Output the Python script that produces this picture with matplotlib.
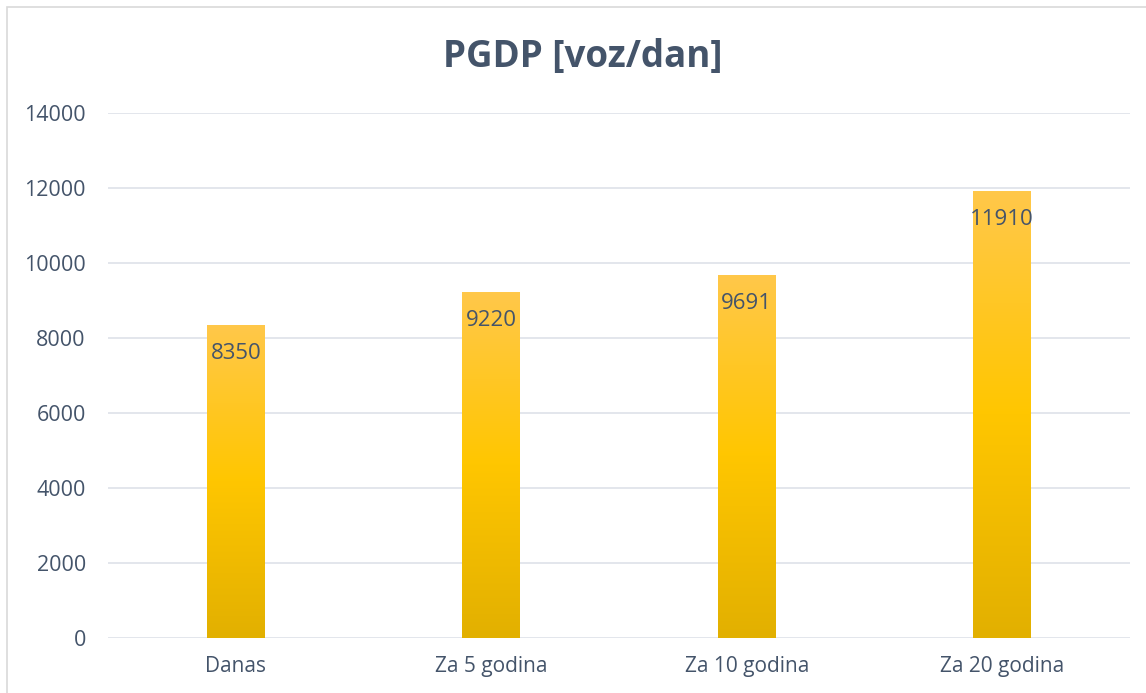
import numpy as np
import matplotlib.pyplot as plt
from matplotlib.colors import LinearSegmentedColormap
from matplotlib.patches import Rectangle

kategorije = ['Danas', 'Za 5 godina', 'Za 10 godina', 'Za 20 godina']
pgdp = [8350, 9220, 9691, 11910]

tekst = '#44546A'
plt.rcParams['font.family'] = ['Open Sans', 'DejaVu Sans']

fig = plt.figure(figsize=(11.46, 6.93), dpi=100)
ax = fig.add_axes([108 / 1146, 1 - 638 / 693, 1022 / 1146, 525 / 693])

# okvir oko grafikona
fig.patches.append(Rectangle((7 / 1146, -0.01), 1.02, 1 - 7 / 693 + 0.01, transform=fig.transFigure,
                             fill=False, edgecolor='#D9D9D9', linewidth=1.2))

x = np.arange(len(kategorije))
bars = ax.bar(x, pgdp, width=0.227, color='none', zorder=3)

# gradijent u stupcima
grad = LinearSegmentedColormap.from_list('g', ['#E2B000', '#FFC600', '#FFC84A'])
slika = np.linspace(0, 1, 256).reshape(-1, 1)
for b in bars:
    im = ax.imshow(slika, cmap=grad, origin='lower', aspect='auto', zorder=3,
                   extent=(b.get_x(), b.get_x() + b.get_width(), 0, b.get_height()))
    im.set_clip_path(b)

for xi, v in zip(x, pgdp):
    ax.text(xi, v - 480, str(v), ha='center', va='top', fontsize=16, color=tekst, zorder=4)

ax.set_xlim(-0.5, len(kategorije) - 0.5)
ax.set_ylim(0, 14000)
ax.set_yticks(range(0, 14001, 2000))
ax.set_xticks(x)
ax.set_xticklabels(kategorije)
ax.tick_params(length=0, labelsize=15.5, labelcolor=tekst)
ax.tick_params(axis='y', pad=16)
ax.tick_params(axis='x', pad=13, labelsize=15)
ax.grid(axis='y', color='#E1E4EA', linewidth=1.3, zorder=0)
for s in ax.spines.values():
    s.set_visible(False)

fig.text(583 / 1146, 1 - 57 / 693, 'PGDP [voz/dan]', ha='center', va='center',
         fontsize=26.5, fontweight='bold', color=tekst)

plt.savefig('out.png', dpi=100)
